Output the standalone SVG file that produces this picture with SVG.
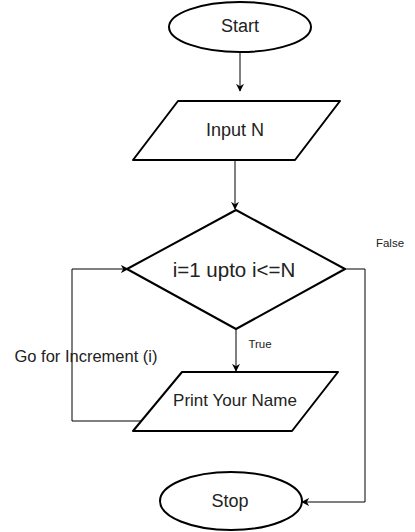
<svg xmlns="http://www.w3.org/2000/svg" width="415" height="532" viewBox="0 0 415 532">
<style>
.shape{fill:#fff;stroke:#000;stroke-width:2;stroke-linejoin:round}
.conn{fill:none;stroke:#000;stroke-width:1}
text{font-family:"Liberation Sans",Arial,sans-serif;fill:#222;text-anchor:middle;dominant-baseline:central}
.big{font-size:18px}
.small{font-size:11.5px}
</style>
<defs>
<marker id="arr" viewBox="0 0 10 10" refX="9" refY="5" markerWidth="8" markerHeight="8" markerUnits="userSpaceOnUse" orient="auto">
<path d="M0,0 L10,5 L0,10 L3,5 Z" fill="#000"/>
</marker>
</defs>
<rect width="415" height="532" fill="#fff"/>
<g id="connectors">
<path class="conn" d="M240,52 V91" marker-end="url(#arr)"/>
<path class="conn" d="M235,160 V209" marker-end="url(#arr)"/>
<path class="conn" d="M236,329 V371" marker-end="url(#arr)"/>
<path class="conn" d="M345,269 H365 V502 H302" marker-end="url(#arr)"/>
<path class="conn" d="M141,421 H72 V269 H128" marker-end="url(#arr)"/>
</g>
<g id="start">
<ellipse class="shape" cx="240" cy="27" rx="71" ry="25"/>
<text class="big" x="240" y="26">Start</text>
</g>
<g id="input">
<path class="shape" d="M178,101 H340 L295,160 H133 Z"/>
<text class="big" x="235" y="130">Input N</text>
</g>
<g id="decision">
<path class="shape" d="M236,210 L345,269 L236,329 L127,269 Z"/>
<text x="234" y="269" style="font-size:20.5px">i=1 upto i&lt;=N</text>
</g>
<g id="print">
<path class="shape" d="M182,372 H338 L292,431 H133 Z"/>
<text x="235" y="400" style="font-size:17px">Print Your Name</text>
</g>
<g id="stop">
<ellipse class="shape" cx="231" cy="501" rx="71" ry="29"/>
<text class="big" x="230" y="501">Stop</text>
</g>
<g id="labels">
<text class="small" x="390" y="243">False</text>
<text class="small" x="260" y="344">True</text>
<text x="86" y="356" style="font-size:16.5px">Go for Increment (i)</text>
</g>
</svg>
